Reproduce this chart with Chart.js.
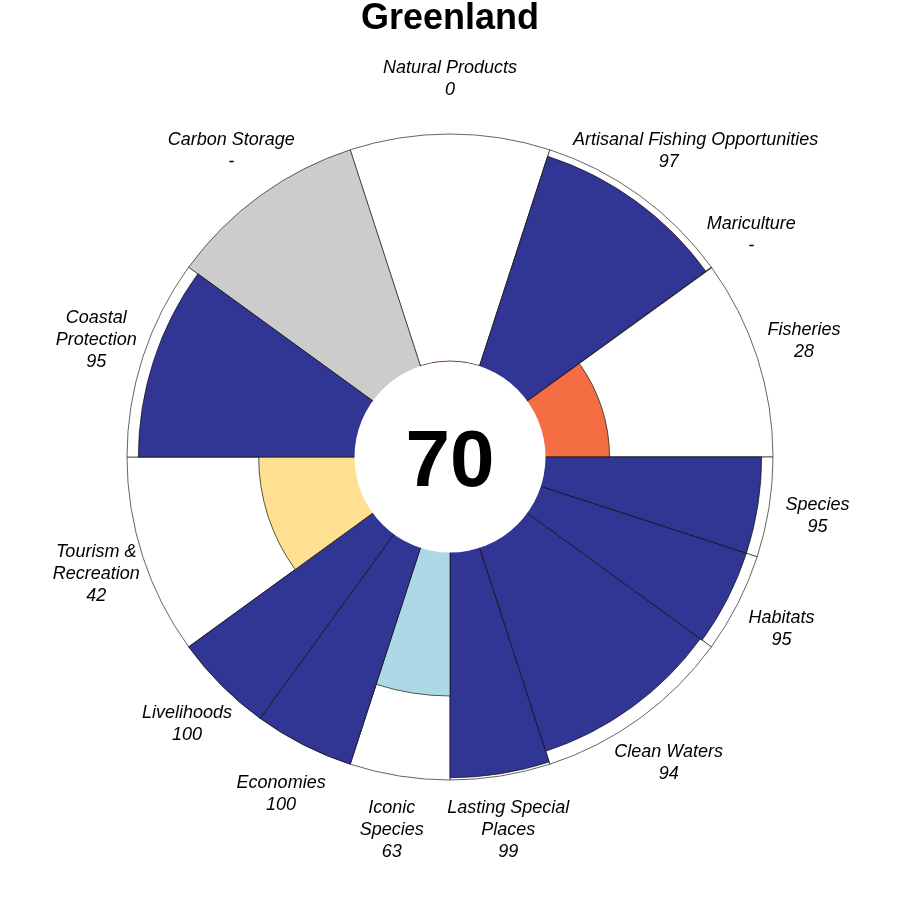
<!DOCTYPE html>
<html>
<head>
<meta charset="utf-8">
<script src="https://cdn.jsdelivr.net/npm/chart.js@4/dist/chart.umd.min.js"></script>
<style>
  html, body { margin: 0; padding: 0; background: #ffffff; }
  #wrap { width: 900px; height: 900px; position: relative; }
</style>
</head>
<body>
<div id="wrap"><canvas id="c" width="900" height="900"></canvas></div>
<script>
// ---- data ----
const regionName = 'Greenland';
const overallScore = 70;
const goalLabels = [
  'Natural Products',
  'Artisanal Fishing Opportunities',
  'Mariculture',
  'Fisheries',
  'Species',
  'Habitats',
  'Clean Waters',
  'Lasting Special\nPlaces',
  'Iconic\nSpecies',
  'Economies',
  'Livelihoods',
  'Tourism &\nRecreation',
  'Coastal\nProtection',
  'Carbon Storage'
];
const goalScores = [0, 97, null, 28, 95, 95, 94, 99, 63, 100, 100, 42, 95, null];
const goalWeights = [36, 36, 0.15, 35.85, 18, 18, 36, 18, 18, 18, 18, 36, 36, 36];
const fullScores = [100, 100, 100, 100, 100, 100, 100, 100, 100, 100, 100, 100, 100, 100];

// ---- styling helpers ----
function scoreColor(v) {
  if (v === null || v === undefined) return 'rgba(0,0,0,0)';
  if (v < 20) return '#D73027';
  if (v < 40) return '#F46D43';
  if (v < 55) return '#FEE090';
  if (v < 80) return '#ADD8E6';
  return '#313695';
}
const holeFraction = 96 / 323;
const scaleMin = -100 * holeFraction / (1 - holeFraction);
const weightTotal = goalWeights.reduce((a, b) => a + b, 0);

const overlayPlugin = {
  id: 'flowerOverlay',
  afterDatasetsDraw(chart) {
    const ctx = chart.ctx;
    const r = chart.scales.r;
    const cx = r.xCenter, cy = r.yCenter;
    const holeR = r.getDistanceFromCenterForValue(0);
    ctx.save();
    ctx.beginPath();
    ctx.arc(cx, cy, holeR - 0.5, 0, Math.PI * 2);
    ctx.fillStyle = '#ffffff';
    ctx.fill();
    ctx.restore();
  },
  afterDraw(chart) {
    const ctx = chart.ctx;
    const r = chart.scales.r;
    const cx = r.xCenter, cy = r.yCenter;
    const R = r.drawingArea;
    const meta = chart.getDatasetMeta(0);
    ctx.save();
    // title
    ctx.fillStyle = '#000';
    ctx.textAlign = 'center';
    ctx.textBaseline = 'alphabetic';
    ctx.font = 'bold 36px "Liberation Sans", Arial, sans-serif';
    ctx.fillText(regionName, cx, 29);
    // center score
    ctx.font = 'bold 80px "Liberation Sans", Arial, sans-serif';
    ctx.fillText(String(overallScore), cx, 486);
    // goal labels
    ctx.font = 'italic 18px "Liberation Sans", Arial, sans-serif';
    ctx.textBaseline = 'middle';
    const rx = R + 49, ry = R + 55, lh = 22;
    const nudges = { 1: [27, 0] };
    meta.data.forEach((arc, i) => {
      const mid = (arc.startAngle + arc.endAngle) / 2;
      const x = cx + rx * Math.cos(mid);
      const y = cy + ry * Math.sin(mid);
      const s = goalScores[i];
      const lines = goalLabels[i].split('\n').concat([s === null ? '-' : String(s)]);
      const n = lines.length;
      lines.forEach((t, k) => {
        const dx = (nudges[i] && nudges[i][k]) ? nudges[i][k] : 0;
        ctx.fillText(t, x + dx, y + (k - (n - 1) / 2) * lh);
      });
    });
    ctx.restore();
  }
};

new Chart(document.getElementById('c'), {
  type: 'polarArea',
  data: {
    labels: goalLabels,
    datasets: [
      {
        label: 'score',
        data: goalScores,
        order: 0,
        backgroundColor: (c) => scoreColor(goalScores[c.dataIndex]),
        borderColor: '#111111',
        borderWidth: (c) => goalScores[c.dataIndex] === null ? 0 : 0.7,
        borderAlign: 'center',
        angle: (c) => goalWeights[c.dataIndex] * 360 / weightTotal
      },
      {
        label: 'outline',
        data: fullScores,
        order: 1,
        backgroundColor: (c) => goalScores[c.dataIndex] === null ? '#CCCCCC' : '#FFFFFF',
        borderColor: '#222222',
        borderWidth: 0.7,
        borderAlign: 'center',
        angle: (c) => goalWeights[c.dataIndex] * 360 / weightTotal
      }
    ]
  },
  options: {
    responsive: false,
    animation: false,
    devicePixelRatio: 1,
    layout: { padding: { left: 127, right: 127, top: 134, bottom: 120 } },
    plugins: {
      legend: { display: false },
      title: { display: false },
      tooltip: { enabled: false }
    },
    scales: {
      r: {
        min: scaleMin,
        max: 100,
        startAngle: -18,
        grid: { display: false },
        angleLines: { display: false },
        ticks: { display: false },
        pointLabels: { display: false }
      }
    }
  },
  plugins: [overlayPlugin]
});
</script>
</body>
</html>
